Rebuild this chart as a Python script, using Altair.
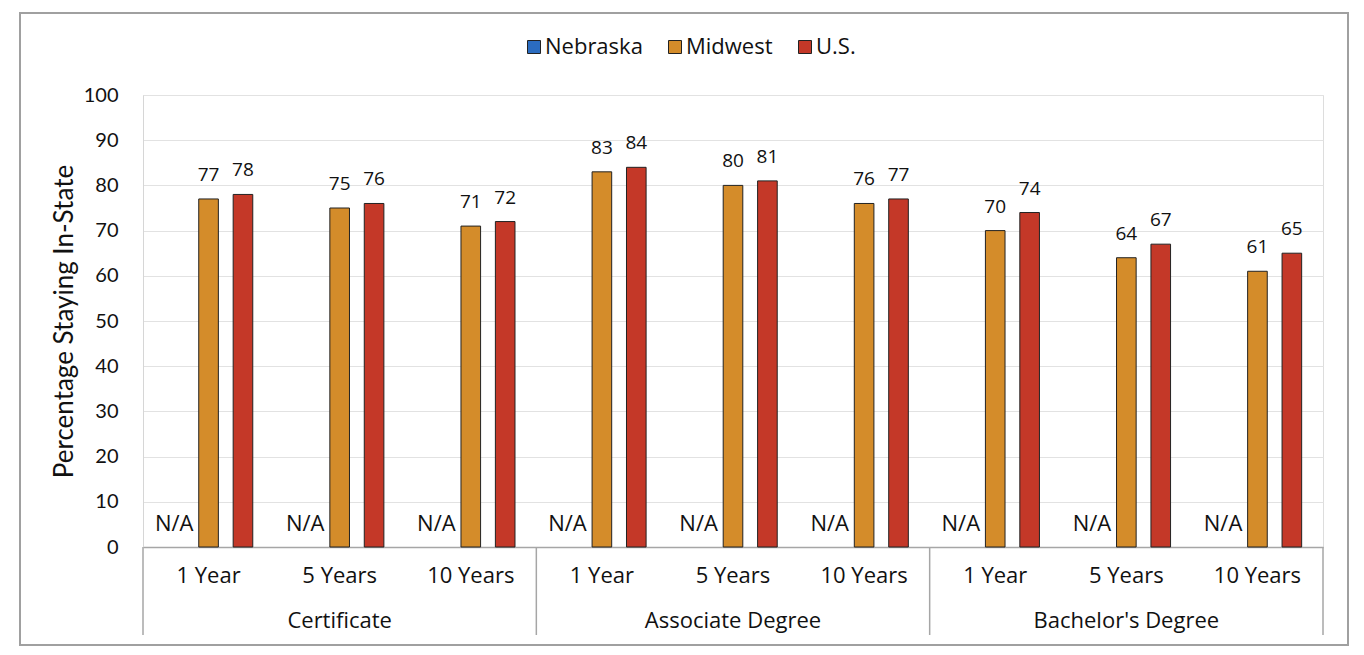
import altair as alt
import pandas as pd

degrees = ["Certificate", "Associate Degree", "Bachelor's Degree"]
periods = ["1 Year", "5 Years", "10 Years"]
series = ["Nebraska", "Midwest", "U.S."]
colors = ["#2B6CC0", "#D48C2A", "#C43828"]
nebraska = [None, None, None, None, None, None, None, None, None]
midwest = [77, 75, 71, 83, 80, 76, 70, 64, 61]
us = [78, 76, 72, 84, 81, 77, 74, 67, 65]

keys = [d + "|" + p for d in degrees for p in periods]
rows = []
for i, k in enumerate(keys):
    for s, vals in zip(series, [nebraska, midwest, us]):
        v = vals[i]
        rows.append({"key": k, "series": s, "value": v,
                     "label": "N/A" if v is None else str(v)})
df = pd.DataFrame(rows)

sep_df = pd.DataFrame({"key": [d + "|" + periods[0] for d in degrees]})
end_df = pd.DataFrame({"key": [keys[-1]]})
deg_df = pd.DataFrame({"key": [d + "|" + periods[1] for d in degrees], "deg": degrees})
frame_df = pd.DataFrame({"a": [0]})

W, H = 1180, 452
FONT = "Open Sans"

xscale = alt.Scale(domain=keys, paddingInner=0, paddingOuter=0)
oscale = alt.Scale(domain=series, paddingInner=0.43, paddingOuter=0.62)
yscale = alt.Scale(domain=[0, 100])

xenc = alt.X("key:N", scale=xscale, sort=keys,
             axis=alt.Axis(title=None, ticks=False, domainColor="#a6a6a6", domainWidth=1.5,
                           labelExpr="split(datum.label, '|')[1]", labelFont=FONT,
                           labelFontSize=22, labelColor="#111", labelPadding=18,
                           labelAngle=0, grid=False))

bars = alt.Chart(df).mark_bar(stroke="#222", strokeWidth=1).encode(
    x=xenc,
    xOffset=alt.XOffset("series:N", scale=oscale, sort=series),
    y=alt.Y("value:Q", scale=yscale,
            axis=alt.Axis(title="Percentage Staying In-State", values=list(range(0, 101, 10)),
                          ticks=False, domainColor="#d6d6d6", gridColor="#e2e2e2",
                          labelFont="Lato", labelFontSize=20, labelColor="#111",
                          labelPadding=25, titleFont="Lato", titleFontSize=26,
                          titleFontWeight="normal", titleColor="#111", titlePadding=6)),
    color=alt.Color("series:N", scale=alt.Scale(domain=series, range=colors),
                    legend=alt.Legend(title=None, orient="none", legendX=380, legendY=-59,
                                      direction="horizontal", symbolType="square",
                                      symbolSize=169, symbolStrokeColor="#222",
                                      symbolStrokeWidth=1, symbolOpacity=1,
                                      labelFont=FONT, labelFontSize=22, labelColor="#111",
                                      columnPadding=21, labelOffset=0, padding=0)),
)

vals = alt.Chart(df).transform_filter("datum.value != null").mark_text(
    font=FONT, fontSize=19, color="#111", baseline="alphabetic", dy=-18
).encode(
    x=alt.X("key:N", scale=xscale, sort=keys),
    xOffset=alt.XOffset("series:N", scale=oscale, sort=series),
    y=alt.Y("value:Q", scale=yscale),
    text="label:N",
)

na = alt.Chart(df).transform_filter("datum.value == null").mark_text(
    font=FONT, fontSize=22, color="#111", baseline="alphabetic", dy=-16
).encode(
    x=alt.X("key:N", scale=xscale, sort=keys),
    xOffset=alt.XOffset("series:N", scale=oscale, sort=series),
    y=alt.datum(0),
    text="label:N",
)

seps = alt.Chart(sep_df).mark_rule(color="#a6a6a6", strokeWidth=1.5, clip=False).encode(
    x=alt.X("key:N", scale=xscale, sort=keys, bandPosition=0),
    y=alt.value(H), y2=alt.value(H + 88),
)
endsep = alt.Chart(end_df).mark_rule(color="#a6a6a6", strokeWidth=1.5, clip=False).encode(
    x=alt.X("key:N", scale=xscale, sort=keys, bandPosition=1),
    y=alt.value(H), y2=alt.value(H + 88),
)

deglabels = alt.Chart(deg_df).mark_text(
    font=FONT, fontSize=22, color="#111", baseline="alphabetic", clip=False
).encode(
    x=alt.X("key:N", scale=xscale, sort=keys),
    y=alt.value(H + 81),
    text="deg:N",
)

frame = alt.Chart(frame_df).mark_rect(fill=None, stroke="#a0a0a0", strokeWidth=2, clip=False).encode(
    x=alt.value(-123), x2=alt.value(1205), y=alt.value(-82), y2=alt.value(550),
)

chart = alt.layer(frame, bars, vals, na, seps, endsep, deglabels).properties(
    width=W, height=H,
    autosize=alt.AutoSizeParams(type="none"),
    padding={"left": 135, "top": 87, "right": 33, "bottom": 100},
).configure_view(stroke=None).configure(background="white")

chart.save("out.html", embed_options={"renderer": "svg", "actions": False})
